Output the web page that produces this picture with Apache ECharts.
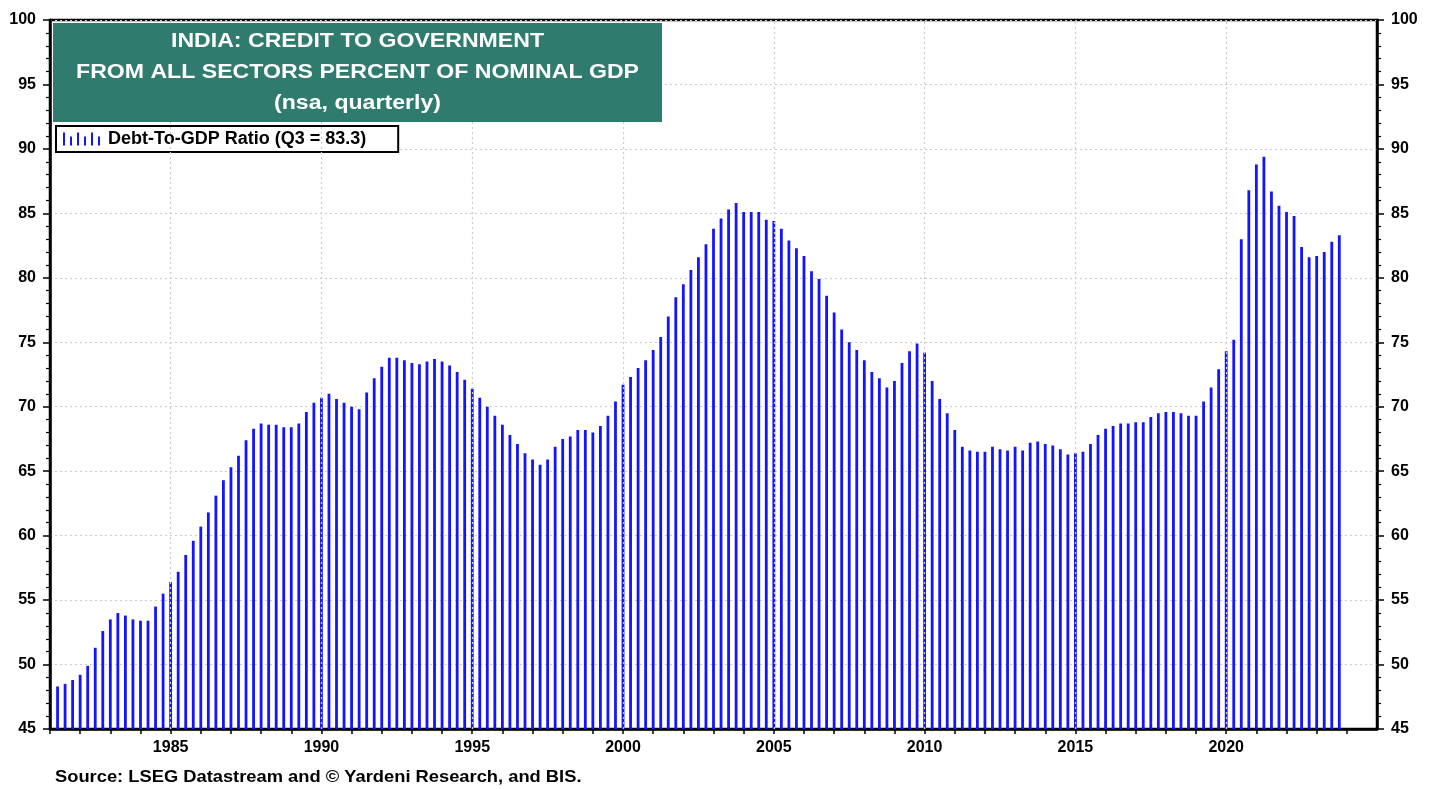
<!DOCTYPE html>
<html>
<head>
<meta charset="utf-8">
<title>India: Credit to Government</title>
<script src="https://cdn.jsdelivr.net/npm/echarts@6/dist/echarts.min.js"></script>
<style>
  html, body { margin: 0; padding: 0; background: #fff; }
  #main { width: 1439px; height: 789px; }
</style>
</head>
<body>
<div id="main"></div>
<script>
// first quarter of the series, then one value per quarter (1981Q1 .. 2023Q3)
var startYear = 1981;
var debtToGdp = [
    48.3, 48.5, 48.8, 49.2, 49.9, 51.3, 52.6, 53.5, 54.0, 53.8, 53.5, 53.4,
    53.4, 54.5, 55.5, 56.4, 57.2, 58.5, 59.6, 60.7, 61.8, 63.1, 64.3, 65.3,
    66.2, 67.4, 68.3, 68.7, 68.6, 68.6, 68.4, 68.4, 68.7, 69.6, 70.3, 70.7,
    71.0, 70.6, 70.3, 70.0, 69.8, 71.1, 72.2, 73.1, 73.8, 73.8, 73.6, 73.4,
    73.3, 73.5, 73.7, 73.5, 73.2, 72.7, 72.1, 71.4, 70.7, 70.0, 69.3, 68.6,
    67.8, 67.1, 66.4, 65.9, 65.5, 65.9, 66.9, 67.5, 67.7, 68.2, 68.2, 68.0,
    68.5, 69.3, 70.4, 71.7, 72.3, 73.0, 73.6, 74.4, 75.4, 77.0, 78.5, 79.5,
    80.6, 81.6, 82.6, 83.8, 84.6, 85.3, 85.8, 85.1, 85.1, 85.1, 84.5, 84.4,
    83.8, 82.9, 82.3, 81.7, 80.5, 79.9, 78.6, 77.3, 76.0, 75.0, 74.4, 73.6,
    72.7, 72.2, 71.5, 72.0, 73.4, 74.3, 74.9, 74.2, 72.0, 70.6, 69.5, 68.2,
    66.9, 66.6, 66.5, 66.5, 66.9, 66.7, 66.6, 66.9, 66.6, 67.2, 67.3, 67.1,
    67.0, 66.7, 66.3, 66.4, 66.5, 67.1, 67.8, 68.3, 68.5, 68.7, 68.7, 68.8,
    68.8, 69.2, 69.5, 69.6, 69.6, 69.5, 69.3, 69.3, 70.4, 71.5, 72.9, 74.3,
    75.2, 83.0, 86.8, 88.8, 89.4, 86.7, 85.6, 85.1, 84.8, 82.4, 81.6, 81.7,
    82.0, 82.8, 83.3
];
var yearLabels = [1985, 1990, 1995, 2000, 2005, 2010, 2015, 2020];
var titleLines = ['INDIA: CREDIT TO GOVERNMENT', 'FROM ALL SECTORS PERCENT OF NOMINAL GDP', '(nsa, quarterly)'];
var seriesName = 'Debt-To-GDP Ratio (Q3 = 83.3)';
var sourceText = 'Source: LSEG Datastream and \u00a9 Yardeni Research, and BIS.';

// bars sit at the end of each quarter
var barData = debtToGdp.map(function (v, i) {
    return [startYear + (i + 1) / 4, v];
});

var myChart = echarts.init(document.getElementById('main'));

var fontFamily = '"Liberation Sans", Arial, sans-serif';
var axisFont = { color: '#000', fontSize: 16, fontWeight: 'bold', fontFamily: fontFamily };

var yAxisCommon = {
    type: 'value',
    min: 45,
    max: 100,
    interval: 5,
    axisLine: { show: true, lineStyle: { color: '#000', width: 2.5 } },
    axisTick: { show: true, length: 7, lineStyle: { color: '#000', width: 1.5 } },
    minorTick: { show: true, splitNumber: 5, length: 4, lineStyle: { color: '#000', width: 1.2 } },
    axisLabel: Object.assign({ margin: 14 }, axisFont)
};

option = {
    animation: false,
    backgroundColor: '#fff',
    grid: {
        left: 50,
        right: 62,
        top: 20,
        bottom: 60,
        show: true,
        borderColor: '#000',
        borderWidth: 2.5
    },
    legend: {
        left: 56,
        top: 126,
        padding: [4, 32, 4, 7],
        backgroundColor: '#fff',
        borderColor: '#000',
        borderWidth: 2,
        borderRadius: 0,
        itemWidth: 37,
        itemHeight: 13,
        itemGap: 0,
        icon: 'path://M0,0h2v13h-2z M7,4h2v9h-2z M14,0h2v13h-2z M21,4h2v9h-2z M28,0h2v13h-2z M35,4h2v9h-2z',
        textStyle: { color: '#000', fontSize: 18, fontWeight: 'bold', fontFamily: fontFamily, padding: [0, 0, 0, 3] },
        data: [seriesName]
    },
    graphic: [
        {
            type: 'rect',
            left: 53,
            top: 23,
            z: 100,
            shape: { width: 609, height: 99 },
            style: { fill: '#2f7b6d' }
        },
        {
            type: 'text',
            x: 357.5,
            y: 26,
            scaleX: 1.1,
            z: 101,
            style: {
                text: titleLines.join('\n'),
                align: 'center',
                verticalAlign: 'top',
                fill: '#fff',
                font: 'bold 21px ' + fontFamily,
                lineHeight: 31
            }
        },
        {
            type: 'text',
            x: 55,
            y: 777,
            scaleX: 1.11,
            style: {
                text: sourceText,
                align: 'left',
                verticalAlign: 'middle',
                fill: '#000',
                font: 'bold 16.5px ' + fontFamily
            }
        }
    ],
    xAxis: {
        type: 'value',
        min: 1981,
        max: 2025,
        interval: 1,
        splitLine: { show: false },
        axisLine: { show: true, lineStyle: { color: '#000', width: 2.5 } },
        axisTick: { show: true, length: 5, lineStyle: { color: '#000', width: 1.5 } },
        axisLabel: Object.assign({
            margin: 11,
            showMaxLabel: false,
            formatter: function (v) {
                return yearLabels.indexOf(v) >= 0 ? String(v) : '';
            }
        }, axisFont)
    },
    yAxis: [
        Object.assign({
            position: 'left',
            splitLine: { show: true, lineStyle: { color: '#cccccc', type: [2, 3], width: 1.2 } }
        }, yAxisCommon),
        Object.assign({
            position: 'right',
            splitLine: { show: false }
        }, yAxisCommon)
    ],
    series: [
        {
            name: seriesName,
            type: 'bar',
            barWidth: 2.8,
            itemStyle: { color: '#1414ff' },
            data: barData,
            markLine: {
                silent: true,
                symbol: 'none',
                label: { show: false },
                lineStyle: { color: '#cccccc', type: [2, 3], width: 1.2 },
                data: yearLabels.map(function (y) { return { xAxis: y }; })
            }
        }
    ]
};

myChart.setOption(option);
</script>
</body>
</html>
